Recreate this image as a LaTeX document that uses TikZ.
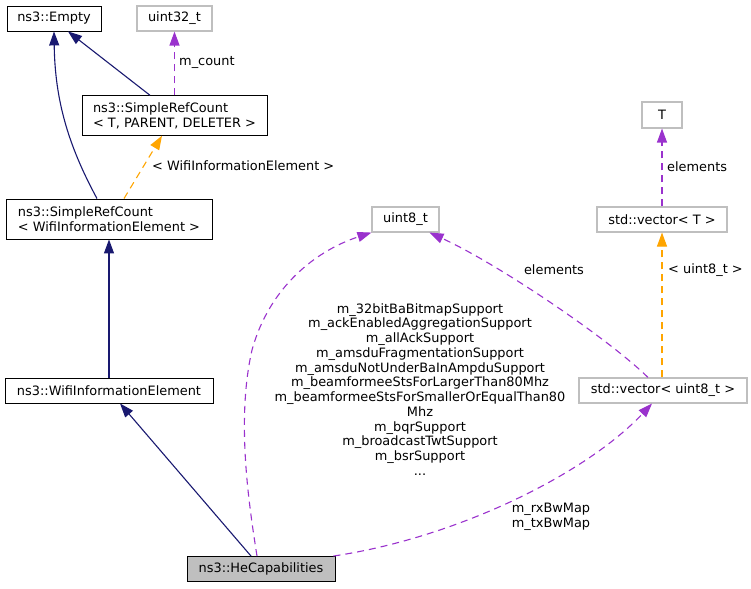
\documentclass[tikz,border=0pt]{standalone}
\usepackage{fontspec}
\setmainfont{DejaVu Sans}
\usetikzlibrary{arrows.meta}
\definecolor{edgeblue}{HTML}{191970}
\definecolor{edgepurple}{HTML}{9A32CD}
\definecolor{edgeorange}{HTML}{FFA500}
\definecolor{boxgray}{HTML}{BFBFBF}

\begin{document}
\begin{tikzpicture}[x=1pt, y=-1pt,
    font=\fontsize{12.9}{14.74}\selectfont,
    cls/.style={rectangle, draw=black, line width=0.9pt, inner sep=0pt, align=left},
    ext/.style={rectangle, draw=boxgray, line width=1.1pt, inner sep=0pt},
    inh/.style={edgeblue, line width=1.1pt, -{Triangle[length=14pt,width=10pt]}},
    member/.style={edgepurple, line width=1.1pt, dash pattern=on 7pt off 5pt, -{Triangle[length=14pt,width=10pt]}},
    tmpl/.style={edgeorange, line width=1.1pt, dash pattern=on 7pt off 5pt, -{Triangle[length=14pt,width=10pt]}},
    lbl/.style={inner sep=0pt, align=center}]
    \useasboundingbox (0,0) rectangle (751,588);

    % Classes
    \node [cls, minimum width=94pt, minimum height=25pt] (empty) at (54,18.5) {ns3::Empty};
    \node [cls, minimum width=185pt, minimum height=39.5pt] (srctpd) at (174.5,115.5) {ns3::SimpleRefCount\\< T, PARENT, DELETER >};
    \node [cls, minimum width=206pt, minimum height=40pt] (srcwie) at (109,219) {ns3::SimpleRefCount\\< WifiInformationElement >};
    \node [cls, minimum width=208pt, minimum height=25pt] (wie) at (109,390.5) {ns3::WifiInformationElement};
    \node [cls, fill=boxgray, minimum width=148pt, minimum height=25pt] (hecap) at (261,569) {ns3::HeCapabilities};

    % External types
    \node [ext, minimum width=75pt, minimum height=25pt] (uint32) at (174.5,18.5) {uint32\_t};
    \node [ext, minimum width=67pt, minimum height=25pt] (uint8) at (405.5,219.5) {uint8\_t};
    \node [ext, minimum width=40pt, minimum height=26pt] (tparam) at (662,115) {T};
    \node [ext, minimum width=130pt, minimum height=25pt] (vect) at (662,219.5) {std::vector< T >};
    \node [ext, minimum width=168pt, minimum height=25pt] (vecuint8) at (663,390.5) {std::vector< uint8\_t >};

    % Inheritance
    \draw[inh] ([xshift=-12pt]srcwie.north) .. controls (68,145) and (55,100) .. (empty.south);
    \draw[inh] ([xshift=-24.5pt]srctpd.north) -- ([xshift=14pt]empty.south);
    \draw[inh] (wie.north) -- (srcwie.south);
    \draw[inh] ([xshift=-10pt]hecap.north) -- ([xshift=11pt]wie.south);

    % Members
    \draw[member] (srctpd.north) -- (uint32.south);
    \draw[member] ([xshift=-4pt]hecap.north) .. controls (249,505) and (236,420) .. (252,350)
        .. controls (270,285) and (318,250) .. (uint8.south west);
    \draw[member] ([xshift=-2pt]hecap.north east) .. controls (455,538) and (585,475) .. ([xshift=-11pt]vecuint8.south);
    \draw[member] ([xshift=-15pt]vecuint8.north) .. controls (610,340) and (500,265) .. ([xshift=24pt]uint8.south);
    \draw[member] (vect.north) -- (tparam.south);

    % Template instances
    \draw[tmpl] ([xshift=15pt]srcwie.north) -- ([xshift=-12.5pt]srctpd.south);
    \draw[tmpl] (vect.south |- vecuint8.north) -- (vect.south);

    % Edge labels
    \node [lbl, anchor=west] (lcount) at (179,62) {m\_count};
    \node [lbl, anchor=west] (lwie) at (152,166) {< WifiInformationElement >};
    \node [lbl, anchor=west] (lelemt) at (667,167) {elements};
    \node [lbl, anchor=west] (luint8) at (668,270) {< uint8\_t >};
    \node [lbl] (lelemu) at (554,270) {elements};
    \node [lbl] (lbw) at (551,516.5) {m\_rxBwMap\\m\_txBwMap};
    \node [lbl] (lfields) at (420,389.4) {m\_32bitBaBitmapSupport\\m\_ackEnabledAggregationSupport\\m\_allAckSupport\\m\_amsduFragmentationSupport\\m\_amsduNotUnderBaInAmpduSupport\\m\_beamformeeStsForLargerThan80Mhz\\m\_beamformeeStsForSmallerOrEqualThan80\\Mhz\\m\_bqrSupport\\m\_broadcastTwtSupport\\m\_bsrSupport\\...};
\end{tikzpicture}
\end{document}
